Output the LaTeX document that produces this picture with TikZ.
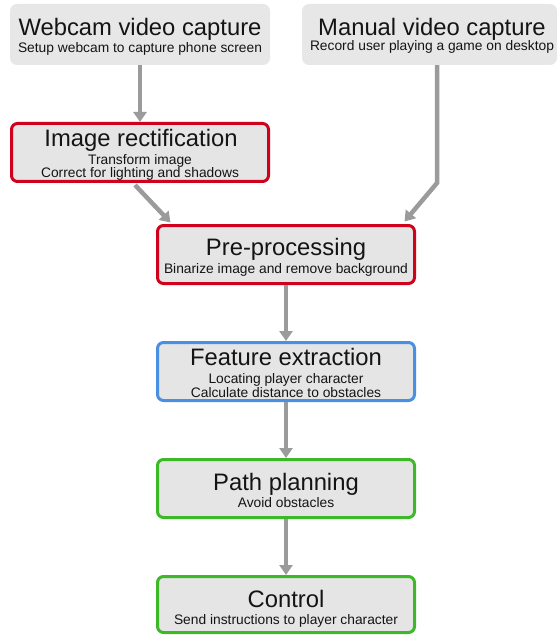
\documentclass[tikz,border=0pt]{standalone}
\usepackage{fontspec}
\setmainfont{Liberation Sans}
\usetikzlibrary{arrows.meta}

\definecolor{boxfill}{HTML}{E5E5E5}
\definecolor{srcfill}{HTML}{E7E7E7}
\definecolor{linkgray}{HTML}{9B9B9B}
\definecolor{stagered}{HTML}{D0021B}
\definecolor{stageblue}{HTML}{4A90E2}
\definecolor{stagegreen}{HTML}{3DB829}
\definecolor{inkdark}{HTML}{141414}

\tikzset{
  srcbox/.style={rectangle, rounded corners=7pt, fill=srcfill, draw=none,
    minimum width=#1, minimum height=61pt, inner sep=0pt},
  stagebox/.style={rectangle, rounded corners=6pt, fill=boxfill, draw=#1,
    line width=3pt, minimum width=257pt, minimum height=58pt, inner sep=0pt},
  title/.style={anchor=base, inner sep=0pt, text=inkdark,
    font=\fontsize{23.8}{24}\selectfont},
  sub/.style={anchor=base, inner sep=0pt, text=inkdark,
    font=\fontsize{13.8}{14}\selectfont},
  link/.style={draw=linkgray, line width=4.5pt,
    -{Triangle[length=10pt,width=13pt]}},
}

\begin{document}
\begin{tikzpicture}[x=1pt, y=-1pt]
  \useasboundingbox (0,0) rectangle (558,636);

  % sources
  \node[srcbox=260pt] (web) at (140,34.5) {};
  \node[title] (webT) at (140,36) {Webcam video capture};
  \node[sub] (webS) at (140,53) {Setup webcam to capture phone screen};

  \node[srcbox=255pt] (man) at (429.5,34.5) {};
  \node[title] (manT) at (432,35.5) {Manual video capture};
  \node[sub] (manS) at (432,50.5) {Record user playing a game on desktop};

  % processing stages
  \node[stagebox=stagered] (rect) at (140,152.5) {};
  \node[title] (rectT) at (141,146.5) {Image rectification};
  \node[sub] (rectS1) at (140,164.3) {Transform image};
  \node[sub] (rectS2) at (140,177.2) {Correct for lighting and shadows};

  \node[stagebox=stagered] (pre) at (286,254.5) {};
  \node[title] (preT) at (286,255) {Pre-processing};
  \node[sub] (preS) at (286,273) {Binarize image and remove background};

  \node[stagebox=stageblue] (feat) at (286,371.5) {};
  \node[title] (featT) at (286,365) {Feature extraction};
  \node[sub] (featS1) at (286,383) {Locating player character};
  \node[sub] (featS2) at (286,397) {Calculate distance to obstacles};

  \node[stagebox=stagegreen] (plan) at (286,488.5) {};
  \node[title] (planT) at (286,490) {Path planning};
  \node[sub] (planS) at (286,507) {Avoid obstacles};

  \node[stagebox=stagegreen, minimum height=56pt] (ctrl) at (286,604.5) {};
  \node[title] (ctrlT) at (286,607) {Control};
  \node[sub] (ctrlS) at (286,624) {Send instructions to player character};

  % connectors
  \coordinate (manBend) at (437,183);
  \draw[link] (web.south) -- (rect.north);
  \draw[link] ([xshift=-5pt,yshift=-2pt]rect.south) -- ([xshift=14.5pt,yshift=1.5pt]pre.north west);
  \draw[link, line join=miter] ([xshift=7.5pt]man.south) -- (manBend) -- ([xshift=-11.5pt,yshift=2.5pt]pre.north east);
  \draw[link] (pre.south) -- (feat.north);
  \draw[link] (feat.south) -- (plan.north);
  \draw[link] (plan.south) -- (ctrl.north);
\end{tikzpicture}
\end{document}
